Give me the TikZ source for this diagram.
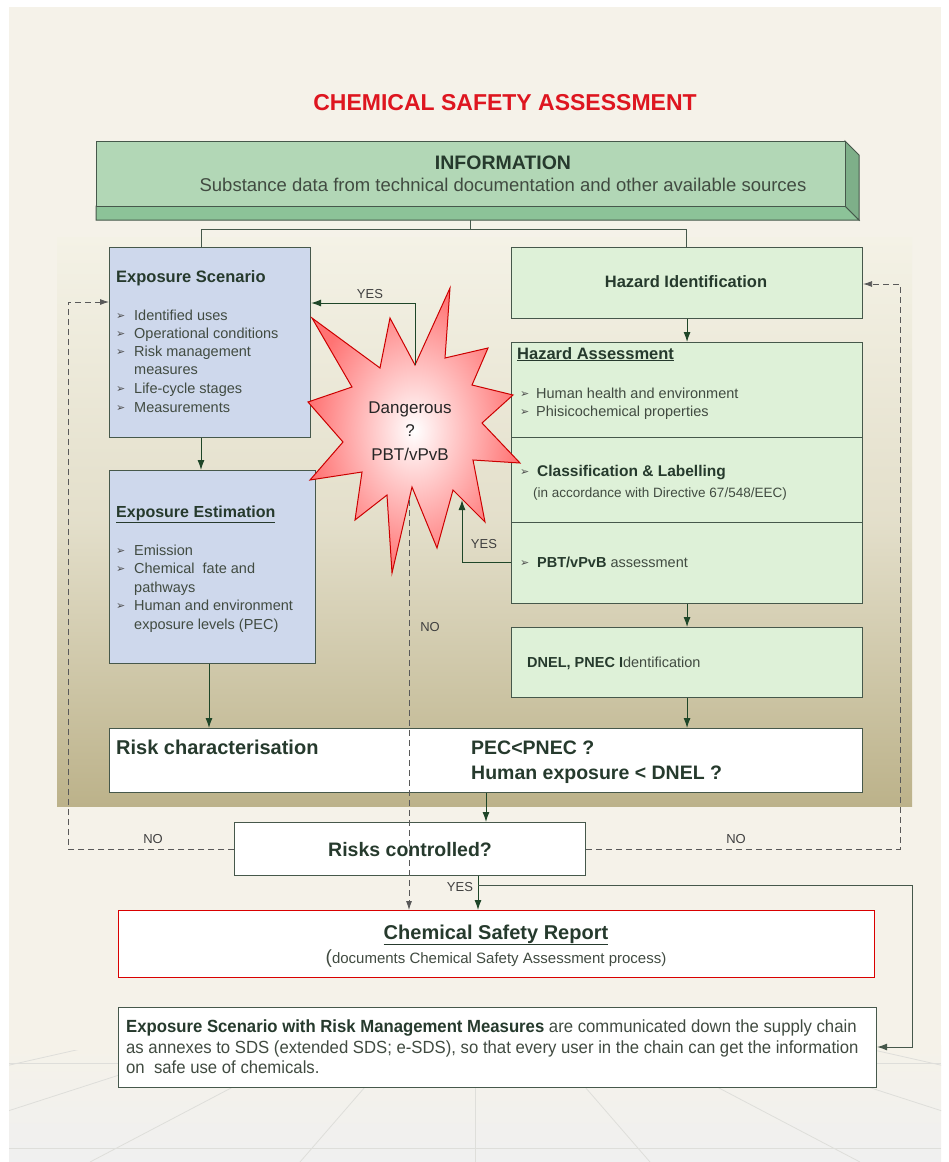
\documentclass[tikz,border=0pt]{standalone}
\usepackage{fontspec}
\setmainfont{Liberation Sans}
\newfontfamily\dv{DejaVu Sans}
\newfontfamily\narrowf{Liberation Sans}[FakeStretch=0.95]
\usetikzlibrary{arrows.meta}
\definecolor{pagebg}{RGB}{245,242,233}
\definecolor{panelTop}{RGB}{244,242,230}
\definecolor{panelBot}{RGB}{188,178,138}
\definecolor{infoF}{RGB}{178,215,182}
\definecolor{infoS}{RGB}{140,195,152}
\definecolor{expF}{RGB}{206,216,236}
\definecolor{hazF}{RGB}{222,241,216}
\definecolor{edge}{RGB}{70,88,75}
\definecolor{arrc}{RGB}{30,70,40}
\definecolor{headc}{RGB}{38,58,45}
\definecolor{bodyc}{RGB}{65,75,65}
\definecolor{titred}{RGB}{222,22,32}
\definecolor{floorl}{RGB}{222,222,218}
\newcommand\fsz[1]{\fontsize{#1}{#1}\selectfont}
\newcommand\bul{{\dv\fontsize{11}{11}\selectfont\symbol{"27A2}}}
\begin{document}
\begin{tikzpicture}[x=1pt,y=-1pt,
  box/.style={draw=edge,line width=1.1pt,inner sep=0pt,anchor=north west},
  txt/.style={inner sep=0pt,anchor=base west,text=bodyc},
  ctxt/.style={inner sep=0pt,anchor=base,text=headc},
  arr/.style={draw=arrc,line width=1pt,-{Latex[length=10pt,width=7pt]}},
  ln/.style={draw=edge,line width=1pt},
  darr/.style={draw=black!65,line width=0.8pt,dash pattern=on 6pt off 4pt,-{Latex[length=9pt,width=6pt]}},
  lbl/.style={inner sep=0pt,anchor=base,text=black!75,font=\fsz{13}}]
% page
\useasboundingbox (0,0) rectangle (949,1162);
\fill[white] (0,0) rectangle (949,1162);
\fill[pagebg] (9,7) rectangle (941,1162);
% floor
\shade[top color=pagebg,bottom color=black!6] (9,1045) rectangle (941,1162);
\begin{scope}
\clip (9,1050) rectangle (941,1162);
\foreach \xb in {-420,-150,90,300,475,650,860,1100,1370}
  \draw[floorl,line width=0.8pt] (475,960) -- (\xb,1162);
\draw[floorl,line width=1pt] (9,1063) -- (941,1063);
\draw[floorl,line width=1pt] (9,1148) -- (941,1148);
\end{scope}
% panel
\shade[top color=panelTop,bottom color=panelBot,middle color=panelTop!70!panelBot] (57,237) rectangle (912,806);
% title
\node[inner sep=0pt,anchor=base,text=titred,font=\bfseries\fsz{23}] (title) at (505,110) {CHEMICAL SAFETY ASSESSMENT};
% information slab
\fill[infoS,draw=edge,line width=1pt] (96,206) -- (845,206) -- (859,220) -- (96,220) -- cycle;
\fill[infoS!90!black,draw=edge,line width=1pt] (845,141) -- (859,155) -- (859,220) -- (845,206) -- cycle;
\node[box,fill=infoF,minimum width=749pt,minimum height=65pt] (info) at (96,141) {};
\node[ctxt,font=\bfseries\fsz{19.5}] (infot) at (503,169) {INFORMATION};
\node[ctxt,font=\fsz{18.5},text=bodyc] (infos) at (503,191) {Substance data from technical documentation and other available sources};
% boxes
\node[box,fill=expF,minimum width=201pt,minimum height=190pt] (es) at (109,247) {};
\node[box,fill=expF,minimum width=206pt,minimum height=193pt] (ee) at (109,470) {};
\node[box,fill=hazF,minimum width=351pt,minimum height=71pt] (hi) at (511,247) {};
\node[box,fill=hazF,minimum width=351pt,minimum height=261pt] (ha) at (511,342) {};
\draw[ln] (511,437) -- (862,437);
\draw[ln] (511,522) -- (862,522);
\node[box,fill=hazF,minimum width=351pt,minimum height=70pt] (dnel) at (511,627) {};
\node[box,fill=white,minimum width=753pt,minimum height=64pt] (risk) at (109,728) {};
\node[box,fill=white,minimum width=351pt,minimum height=53pt] (rc) at (234,822) {};
\node[box,fill=white,draw=red!85!black,minimum width=756pt,minimum height=67pt] (csr) at (118,910) {};
\node[box,fill=white,minimum width=758pt,minimum height=80pt] (bot) at (118,1007) {};
% info connectors
\coordinate (ib) at (470.5,220);
\coordinate (ij) at (470.5,229);
\coordinate (il) at (201,229);
\coordinate (ir) at (686.5,229);
\draw[ln] (ib) -- (ij);
\draw[ln] (il) -- (ir);
\draw[ln] (il) -- (il |- es.north);
\draw[ln] (ir) -- (ir |- hi.north);
% exposure scenario text
\node[txt,text=headc,font=\bfseries\fsz{16.5}] (est) at (116,282) {Exposure Scenario};
\foreach \yy/\tt/\bb in {320/Identified uses/1,338/Operational conditions/1,356/Risk management/1,374/measures/0,393/Life-cycle stages/1,412/Measurements/1}{
  \node[txt,font=\fsz{14.5}] at (134,\yy) {\tt};
  \ifnum\bb=1 \node[txt,text=black!70] at (116,\yy-0.5) {\bul};\fi
}
% exposure estimation text
\node[txt,text=headc,font=\bfseries\fsz{16}] (eet) at (116,517) {\underline{Exposure Estimation}};
\foreach \yy/\tt/\bb in {555/Emission/1,573/Chemical\ \ fate and/1,592/pathways/0,610/Human and environment/1,629/exposure levels (PEC)/0}{
  \node[txt,font=\fsz{14.5}] at (134,\yy) {\tt};
  \ifnum\bb=1 \node[txt,text=black!70] at (116,\yy-0.5) {\bul};\fi
}
% hazard texts
\node[ctxt,font=\bfseries\fsz{16.5}] (hit) at (686,287) {Hazard Identification};
\node[txt,text=headc,font=\bfseries\fsz{16.5}] (hat) at (517,359) {\underline{Hazard Assessment}};
\node[txt,font=\fsz{14.5}] at (536,398) {Human health and environment};
\node[txt,text=black!70] at (520,397.5) {\bul};
\node[txt,font=\fsz{14.5}] at (536,416) {Phisicochemical properties};
\node[txt,text=black!70] at (520,415.5) {\bul};
\node[txt,text=headc,font=\bfseries\fsz{15.5}] (cl) at (537,476) {Classification \& Labelling};
\node[txt,text=black!70] at (520,475.5) {\bul};
\node[txt,font=\fsz{13.5}] at (533,497) {(in accordance with Directive 67/548/EEC)};
\node[txt,font=\fsz{14.5}] (pbt) at (537,567) {\textcolor{headc}{\bfseries PBT/vPvB} assessment};
\node[txt,text=black!70] at (520,566.5) {\bul};
\node[txt,font=\fsz{14.5}] (dnt) at (527,667) {\textcolor{headc}{\bfseries DNEL, PNEC I}dentification};
% risk texts
\node[txt,text=headc,font=\bfseries\fsz{20}] (rct) at (116,754) {Risk characterisation};
\node[txt,text=headc,font=\bfseries\fsz{19.5}] at (471,754) {PEC<PNEC ?};
\node[txt,text=headc,font=\bfseries\fsz{19.5}] at (471,779) {Human exposure < DNEL ?};
\node[ctxt,font=\bfseries\fsz{19.5}] (rctt) at (rc.center |- 0,856) {Risks controlled?};
% CSR
\node[ctxt,font=\bfseries\fsz{20}] (csrt) at (496,939) {\underline{Chemical Safety Report}};
\node[ctxt,font=\fsz{15},text=bodyc] (csrs) at (496,963) {{\fsz{19}(}documents Chemical Safety Assessment process)};
% bottom text
\node[txt,font=\narrowf\fsz{17.6}] at (126,1032) {\textcolor{headc}{\bfseries Exposure Scenario with Risk Management Measures} are communicated down the supply chain};
\node[txt,font=\narrowf\fsz{17.6}] at (126,1053) {as annexes to SDS (extended SDS; e-SDS), so that every user in the chain can get the information};
\node[txt,font=\narrowf\fsz{17.6}] at (126,1073) {on\ \ safe use of chemicals.};
% starburst
\shade[inner color=white,outer color=red!55!white]
 (450,288) -- (445,358) -- (488,348) -- (472,385) -- (513,395) -- (482,423) -- (520,463) -- (473,460)
 -- (485,522) -- (453,490) -- (437,548) -- (412,487) -- (392,573) -- (387,495) -- (355,520) -- (362,472)
 -- (310,480) -- (343,442) -- (308,402) -- (352,387) -- (312,318) -- (380,368) -- (390,318) -- (415,365) -- cycle;
\draw[red!80!black,line width=1pt]
 (450,288) -- (445,358) -- (488,348) -- (472,385) -- (513,395) -- (482,423) -- (520,463) -- (473,460)
 -- (485,522) -- (453,490) -- (437,548) -- (412,487) -- (392,573) -- (387,495) -- (355,520) -- (362,472)
 -- (310,480) -- (343,442) -- (308,402) -- (352,387) -- (312,318) -- (380,368) -- (390,318) -- (415,365) -- cycle;
\node[ctxt,text=black!85,font=\fsz{17}] (sbt) at (410,413) {Dangerous};
\node[ctxt,text=black!85,font=\fsz{17}] at (410,436) {?};
\node[ctxt,text=black!85,font=\fsz{17}] at (410,460) {PBT/vPvB};
% arrows
\draw[arr] (es.south -| il) -- (ee.north -| il);
\coordinate (xe) at (209,0);
\draw[arr] (ee.south -| xe) -- (risk.north -| xe);
\draw[arr] (hi.south) -- (ha.north);
\draw[arr] (ha.south) -- (dnel.north);
\draw[arr] (dnel.south) -- (dnel.south |- risk.north);
\coordinate (xr) at (486,0);
\draw[arr] (risk.south -| xr) -- (rc.north -| xr);
\coordinate (xy) at (478,0);
\draw[arr] (rc.south -| xy) -- (csr.north -| xy);
\coordinate (yb) at (478,885);
\coordinate (yc) at (912,885);
\coordinate (yd) at (912,1047);
\draw[arr,draw=edge] (yb) -- (yc) -- (yd) -- (yd -| bot.east);
\node[lbl] (yesb) at (460,891) {YES};
% YES arrows around starburst
\coordinate (s1) at (415,365);
\coordinate (t1) at (415,303);
\draw[arr] (s1) -- (t1) -- (t1 -| es.east);
\node[lbl] (yes1) at (370,298) {YES};
\coordinate (t2) at (462,562);
\coordinate (t3) at (462,500);
\draw[arr] (t2 -| ha.west) -- (t2) -- (t3);
\node[lbl] (yes2) at (484,548) {YES};
% dashed NO lines
\coordinate (sb) at (409,500);
\draw[darr] (sb) -- (sb |- csr.north);
\node[lbl] (no3) at (430,631) {NO};
\coordinate (nl) at (68,302);
\draw[darr] (rc.west) -| (nl) -- (nl -| es.west);
\node[lbl] (no1) at (153,843) {NO};
\coordinate (nr) at (900,284);
\draw[darr] (rc.east) -| (nr) -- (nr -| hi.east);
\node[lbl] (no2) at (736,843) {NO};
\end{tikzpicture}
\end{document}
